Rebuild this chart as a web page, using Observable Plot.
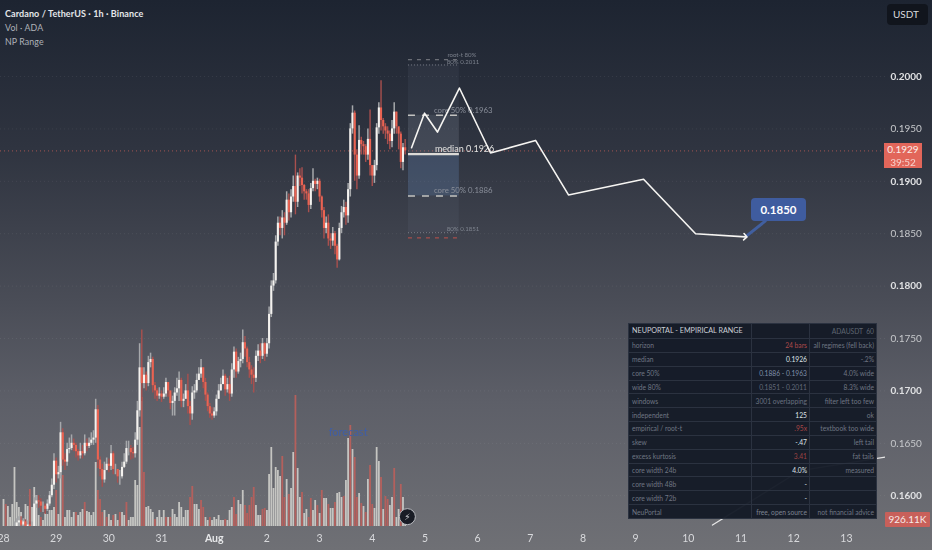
<!DOCTYPE html>
<html>
<head>
<meta charset="utf-8">
<script src="https://cdn.jsdelivr.net/npm/d3@7"></script>
<script src="https://cdn.jsdelivr.net/npm/@observablehq/plot@0.6"></script>
<style>
html,body{margin:0;padding:0;width:932px;height:550px;overflow:hidden;font-family:Lato,Roboto,sans-serif;}
body{background:linear-gradient(180deg,#1d2431 0%,#2f3440 27%,#4a4d57 55%,#5d5f68 73%,#6f7075 100%);}
#wrap{position:relative;width:932px;height:550px;}
#wrap svg{display:block;background:transparent;filter:blur(.25px);}
.ov{position:absolute;white-space:nowrap;}
#legend div{line-height:14px;font-size:8.8px;color:#aeb2b8;letter-spacing:.1px;}
#legend div:first-child{color:#e4e7ea;font-weight:700;font-size:9px;}
table{position:absolute;left:628px;top:323px;width:248px;border-collapse:collapse;table-layout:fixed;background:rgba(20,26,38,.96);font-size:6.7px;color:#6f7683;}
tr{height:13.85px;}
td{border:1px solid #2b3240;padding:0 2px 0 3px;line-height:10px;white-space:nowrap;overflow:hidden;box-sizing:border-box;}
td.r{text-align:right;}
tr.h{height:15px;}
tr.h td{color:#ccd0d6;font-size:7.2px;}
tr.h td.r{color:#5f6672;font-size:6.7px;}
</style>
</head>
<body>
<div id="wrap"></div>
<script>
// price × 10⁴, one entry per hourly candle from 28 Jul 00:00 UTC
const closes=[1560,1558,1560,1565,1563,1570,1574,1576,1572,1575,1570,1572,1570,1570,1592,1595,1594,1590,1590,1587,1592,1600,1610,1633,1620,1622,1660,1634,1632,1644,1645,1650,1648,1642,1638,1642,1640,1650,1647,1650,1653,1655,1682,1634,1625,1615,1624,1630,1628,1640,1625,1625,1618,1618,1627,1632,1645,1645,1641,1640,1653,1681,1722,1707,1715,1707,1727,1730,1705,1700,1695,1697,1694,1697,1708,1700,1688,1690,1698,1702,1710,1690,1692,1700,1685,1678,1698,1700,1710,1716,1722,1708,1696,1685,1678,1676,1680,1692,1700,1706,1714,1701,1706,1697,1720,1737,1718,1728,1730,1746,1740,1727,1720,1715,1712,1733,1738,1733,1745,1735,1745,1773,1800,1805,1842,1860,1855,1865,1860,1882,1870,1885,1895,1880,1905,1903,1896,1890,1888,1877,1893,1900,1897,1900,1885,1872,1855,1860,1845,1843,1850,1838,1825,1855,1870,1875,1867,1892,1950,1965,1925,1905,1939,1935,1933,1925,1940,1915,1905,1915,1951,1970,1958,1952,1948,1945,1938,1950,1966,1952,1945,1918,1932,1929];
const highs=[1566,1566,1566,1570,1570,1575,1578,1580,1580,1578,1577,1576,1575,1575,1598,1600,1600,1597,1594,1592,1596,1604,1616,1640,1636,1628,1670,1664,1640,1650,1655,1658,1654,1650,1644,1650,1648,1658,1654,1655,1660,1662,1692,1686,1637,1630,1632,1636,1635,1648,1642,1630,1625,1624,1632,1640,1652,1652,1648,1646,1660,1690,1745,1758,1722,1718,1733,1736,1732,1708,1702,1703,1700,1703,1712,1708,1698,1695,1703,1712,1718,1712,1697,1706,1716,1690,1704,1706,1716,1722,1730,1722,1712,1698,1688,1684,1684,1696,1706,1712,1720,1716,1712,1714,1726,1742,1740,1732,1736,1758,1752,1742,1732,1724,1722,1738,1744,1745,1750,1746,1750,1780,1805,1812,1848,1866,1866,1872,1870,1890,1888,1892,1905,1925,1908,1912,1913,1897,1892,1892,1898,1912,1902,1903,1902,1886,1875,1866,1868,1850,1856,1852,1840,1860,1876,1882,1880,1898,1955,1972,1967,1930,1953,1942,1938,1935,1950,1968,1915,1920,1955,1975,1996,1960,1955,1952,1948,1958,1975,1966,1950,1947,1936,1940];
const lows=[1552,1552,1554,1558,1558,1562,1566,1570,1568,1568,1566,1566,1564,1564,1568,1588,1588,1584,1584,1582,1585,1590,1598,1606,1612,1616,1616,1628,1624,1628,1640,1643,1642,1636,1633,1635,1635,1638,1642,1645,1648,1648,1650,1626,1618,1608,1612,1625,1622,1624,1620,1620,1612,1610,1616,1626,1630,1638,1634,1635,1636,1648,1675,1690,1702,1700,1704,1722,1698,1692,1690,1692,1689,1692,1694,1694,1682,1676,1676,1695,1690,1684,1684,1692,1678,1667,1672,1692,1698,1710,1712,1702,1690,1680,1674,1672,1674,1676,1692,1700,1708,1695,1698,1690,1694,1712,1712,1716,1722,1726,1732,1722,1712,1706,1698,1708,1728,1726,1730,1728,1732,1740,1770,1795,1802,1838,1848,1845,1848,1858,1862,1865,1880,1868,1875,1895,1888,1882,1882,1870,1873,1890,1890,1892,1880,1865,1845,1850,1838,1835,1838,1830,1817,1824,1850,1865,1858,1860,1885,1945,1900,1892,1902,1925,1925,1918,1920,1905,1895,1898,1910,1945,1948,1945,1940,1935,1930,1932,1945,1945,1930,1912,1910,1925];
// relative hourly volume
const volumes=[27,22,20,9,22,59,24,19,14,6,22,20,37,19,39,31,11,9,6,13,12,16,16,19,36,12,60,51,9,16,16,9,14,14,11,14,17,24,15,14,11,14,64,36,27,14,16,9,12,6,11,12,6,14,14,11,24,6,9,9,46,41,99,129,54,19,20,17,14,7,9,16,9,16,9,9,9,17,12,9,24,19,9,16,16,29,40,22,22,17,26,19,9,6,9,6,9,7,11,6,6,7,6,16,19,29,12,26,22,36,21,13,21,29,39,21,11,11,17,18,16,52,79,38,59,56,50,70,29,47,32,38,74,131,58,29,34,13,17,9,28,16,26,21,13,36,28,28,22,18,18,24,33,34,29,30,46,88,101,77,69,29,33,23,20,14,47,61,22,18,79,65,49,17,30,27,21,29,58,9,17,42,29,4];
const redVolumeHours=[1,12,17,24,27,33,37,43,44,45,47,50,53,56,63,64,69,74,76,85,86,90,91,94,101,105,106,110,111,112,113,114,118,119,127,128,130,133,136,139,140,143,145,148,151,155,158,160,161,163,165,167,168,172,174,175,178,181];
// forecast path: hours since 28 Jul 00:00, price
const pathHours=[185.9,191.8,197.7,207.7,221.9,242.4,257.4,291.6,315.3,338];
const pathPrices=[0.1932,0.1965,0.1947,0.1989,0.1927,0.1939,0.1887,0.1902,0.1850,0.1847];
const connectorHours=[338,347];
const connectorPrices=[0.1847,0.1862];
const lowerHours=[323,363,402];
const lowerPrices=[0.1572,0.1624,0.1637];
const rangeHours=[184.5,207.7];
const levels={rootUp:0.2016,wideUp:0.2011,coreUp:0.1963,median:0.1926,coreLow:0.1886,wideLow:0.1851,rootLow:0.1846};
const lastPrice=0.1929;
const priceTicksMajor=[0.2000,0.1900,0.1800,0.1700,0.1600];
const priceTicksMinor=[0.1950,0.1850,0.1750,0.1650];
const dayLabels=["28","29","30","31","Aug","2","3","4","5","6","7","8","9","10","11","12","13"];
const rowLabels=["horizon","median","core 50%","wide 80%","windows","independent","empirical / root-t","skew","excess kurtosis","core width 24b","core width 48b","core width 72b","NeuPortal"];
const rowValues=["24 bars","0.1926","0.1886 - 0.1963","0.1851 - 0.2011","3001 overlapping","125",".95x","-.47","3.41","4.0%","-","-","free, open source"];
const rowNotes=["all regimes (fell back)","-.2%","4.0% wide","8.3% wide","filter left too few","ok","textbook too wide","left tail","fat tails","measured","","","not financial advice"];
const rowColors=["#b04a4a","#dfe2e6","#7f8ea8","#626978","#6a7180","#dfe2e6","#a84646","#dfe2e6","#9c4343","#dfe2e6","#dfe2e6","#dfe2e6","#7d8491"];

const t0=Date.UTC(2025,6,28);
const hr=h=>new Date(t0+h*3600e3);
const pxH=2.195;
const candles=closes.map((c,i)=>({t:hr(i),o:(i?closes[i-1]:c)/1e4,c:c/1e4,h:highs[i]/1e4,l:lows[i]/1e4,up:i?c>=closes[i-1]:true,v:volumes[i],red:redVolumeHours.includes(i)}));
const ticksDates=dayLabels.map((d,i)=>new Date(t0+i*864e5));
const pxPerPrice=10480;
const yTop=0.2+76/pxPerPrice, yBot=0.2-(526-76)/pxPerPrice;
const volY=d3.scaleLinear([0,131],[yBot,yBot+131/pxPerPrice]);
const hLeft=-3/pxH, hRight=(885-3)/pxH;
const path=pathHours.map((h,i)=>({t:hr(h),p:pathPrices[i]}));
const conn=connectorHours.map((h,i)=>({t:hr(h),p:connectorPrices[i]}));
const lower=lowerHours.map((h,i)=>({t:hr(h),p:lowerPrices[i]}));
const x1=hr(rangeHours[0]), x2=hr(rangeHours[1]);
const fmt=d=>d3.format(".4f")(d);
const col="#8a8f9a";

const chart=Plot.plot({
  width:932,height:550,marginTop:0,marginLeft:0,marginRight:47,marginBottom:24,
  style:{background:"transparent",fontFamily:"Lato,Roboto,sans-serif",overflow:"hidden"},
  x:{type:"utc",domain:[hr(hLeft),hr(hRight)]},
  y:{domain:[yBot,yTop]},
  marks:[
    Plot.ruleY([...priceTicksMajor,...priceTicksMinor],{stroke:"#fff",strokeOpacity:0.07,strokeDasharray:"1,3"}),
    Plot.ruleY([lastPrice],{stroke:"#e0665c",strokeOpacity:0.65,strokeDasharray:"1,3",strokeWidth:1}),
    // volume
    Plot.ruleX(candles.filter(d=>!d.red),{x:"t",y1:volY(0),y2:d=>volY(d.v),stroke:"#cfcfcb",strokeOpacity:0.9,strokeWidth:1.8,clip:true}),
    Plot.ruleX(candles.filter(d=>d.red),{x:"t",y1:volY(0),y2:d=>volY(d.v),stroke:"#b8605c",strokeOpacity:0.95,strokeWidth:1.8,clip:true}),
    // candles
    Plot.ruleX(candles.filter(d=>d.up),{x:"t",y1:"l",y2:"h",stroke:"#a6a8ab",strokeWidth:1.5,clip:true}),
    Plot.ruleX(candles.filter(d=>!d.up),{x:"t",y1:"l",y2:"h",stroke:"#a9504e",strokeWidth:1.4,clip:true}),
    Plot.ruleX(candles.filter(d=>d.up),{x:"t",y1:"o",y2:"c",stroke:"#f4f2ef",strokeWidth:2.1,clip:true}),
    Plot.ruleX(candles.filter(d=>!d.up),{x:"t",y1:"o",y2:"c",stroke:"#ea6352",strokeWidth:2.1,clip:true}),
    // range box
    Plot.rect([0],{x1:()=>x1,x2:()=>x2,y1:()=>levels.wideUp,y2:()=>levels.wideLow,fill:"#8f9bb0",fillOpacity:0.08}),
    Plot.rect([0],{x1:()=>x1,x2:()=>x2,y1:()=>levels.coreUp,y2:()=>levels.median,fill:"#a8aeb8",fillOpacity:0.12}),
    Plot.rect([0],{x1:()=>x1,x2:()=>x2,y1:()=>levels.median,y2:()=>levels.coreLow,fill:"#5c80b8",fillOpacity:0.24}),
    Plot.ruleY([levels.rootUp],{x1:x1,x2:x2,stroke:"#81838a",strokeWidth:1,strokeDasharray:"4,5"}),
    Plot.ruleY([levels.wideUp,levels.wideLow],{x1:x1,x2:x2,stroke:"#777b84",strokeWidth:1,strokeDasharray:"1,2"}),
    Plot.ruleY([levels.coreUp,levels.coreLow],{x1:x1,x2:x2,stroke:"#c3c3c1",strokeWidth:1.5,strokeDasharray:"7,7"}),
    Plot.ruleY([levels.median],{x1:x1,x2:x2,stroke:"#dcdad6",strokeWidth:2.2}),
    Plot.ruleY([levels.rootLow],{x1:x1,x2:x2,stroke:"#c0524c",strokeWidth:1,strokeDasharray:"4,5"}),
    // labels on range
    Plot.text(["root-t 80%"],{x:()=>hr(215.5),y:()=>0.2020,textAnchor:"end",fontSize:6.1,fill:col,fillOpacity:.85}),
    Plot.text(["80% 0.2011"],{x:()=>hr(216.8),y:()=>0.2014,textAnchor:"end",fontSize:6.1,fill:col,fillOpacity:.85}),
    Plot.text(["80% 0.1851"],{x:()=>hr(216.8),y:()=>0.1854,textAnchor:"end",fontSize:6.1,fill:col,fillOpacity:.85}),
    Plot.text(["core 50% 0.1963"],{x:()=>hr(222.8),y:()=>0.1968,textAnchor:"end",fontSize:7.8,fill:col}),
    Plot.text(["core 50% 0.1886"],{x:()=>hr(222.8),y:()=>0.1891,textAnchor:"end",fontSize:7.8,fill:col}),
    Plot.text(["median 0.1926"],{x:()=>hr(223.6),y:()=>0.1931,textAnchor:"end",fontSize:9,fill:"#e4e4e2"}),
    // forecast path
    Plot.line(lower,{x:"t",y:"p",stroke:"#e6e6e6",strokeWidth:1.3,clip:true}),
    Plot.line(conn,{x:"t",y:"p",stroke:"#415f9f",strokeWidth:3}),
    Plot.line(path,{x:"t",y:"p",stroke:"#f6f5f2",strokeWidth:1.6,markerEnd:"arrow"}),
    Plot.text(["forecast"],{x:()=>hr(157),y:()=>0.1660,fontSize:11,fill:"#3f5ea6"}),
    // bolt badge
    Plot.dot([0],{x:()=>hr(184),y:()=>0.1580,r:8,fill:"#191c25",stroke:"#b9bbc0",strokeWidth:1}),
    Plot.text(["⚡"],{x:()=>hr(184),y:()=>0.1580,fontSize:9,fill:"#d7d8dc",fontFamily:"DejaVu Sans"}),
    // axes
    Plot.axisY(priceTicksMajor,{anchor:"right",tickSize:0,tickPadding:5,tickFormat:fmt,fontSize:10,fontWeight:700,fill:"#dfe0e2",label:null}),
    Plot.axisY(priceTicksMinor,{anchor:"right",tickSize:0,tickPadding:5,tickFormat:fmt,fontSize:10,fill:"#c6c8cb",label:null}),
    Plot.axisX(ticksDates.filter((d,i)=>dayLabels[i]!=="Aug"),{anchor:"bottom",tickSize:0,tickPadding:8,fontSize:10.5,fill:"#d8d9dc",label:null,tickFormat:d=>dayLabels[Math.round((d-t0)/864e5)]}),
    Plot.axisX(ticksDates.filter((d,i)=>dayLabels[i]==="Aug"),{anchor:"bottom",tickSize:0,tickPadding:8,fontSize:10.5,fontWeight:700,fill:"#e6e7e9",label:null,tickFormat:()=>"Aug"})
  ]
});
const wrap=document.getElementById("wrap");
wrap.appendChild(chart);

function ov(html,css,id){const e=document.createElement("div");e.className="ov";e.innerHTML=html;e.style.cssText=css;if(id)e.id=id;wrap.appendChild(e);return e;}
ov("<div>Cardano / TetherUS · 1h · Binance</div><div>Vol · ADA</div><div>NP Range</div>","left:5px;top:7px;","legend");
ov("USDT","left:887px;top:4px;width:41px;height:21px;background:#11151d;border-radius:4px;color:#d8dade;font-size:10px;line-height:21px;padding-left:6px;box-sizing:border-box;");
ov('0.1929<br><span style="opacity:.8">39:52</span>',"left:884px;top:143px;width:38px;height:25px;background:#e2665a;color:#fbeeea;font-size:10px;line-height:12.5px;text-align:center;");
ov("926.11K","left:885px;top:512px;width:45px;height:15px;background:#c8605a;color:#f7ebe8;font-size:10px;line-height:15px;text-align:center;border-radius:1px;");
ov("0.1850","left:751px;top:198px;width:55px;height:23px;background:#3f5c9f;border-radius:4px;color:#fff;font-size:11.5px;font-weight:700;line-height:23px;text-align:center;");

const tb=document.createElement("table");
let h='<colgroup><col style="width:123px"><col style="width:58px"><col style="width:67px"></colgroup>';
h+='<tr class="h"><td>NEUPORTAL - EMPIRICAL RANGE</td><td></td><td class="r">ADAUSDT&nbsp; 60</td></tr>';
rowLabels.forEach((l,i)=>{h+=`<tr><td>${l}</td><td class="r" style="color:${rowColors[i]}">${rowValues[i]}</td><td class="r">${rowNotes[i]}</td></tr>`;});
tb.innerHTML=h;
wrap.appendChild(tb);
</script>
</body>
</html>
